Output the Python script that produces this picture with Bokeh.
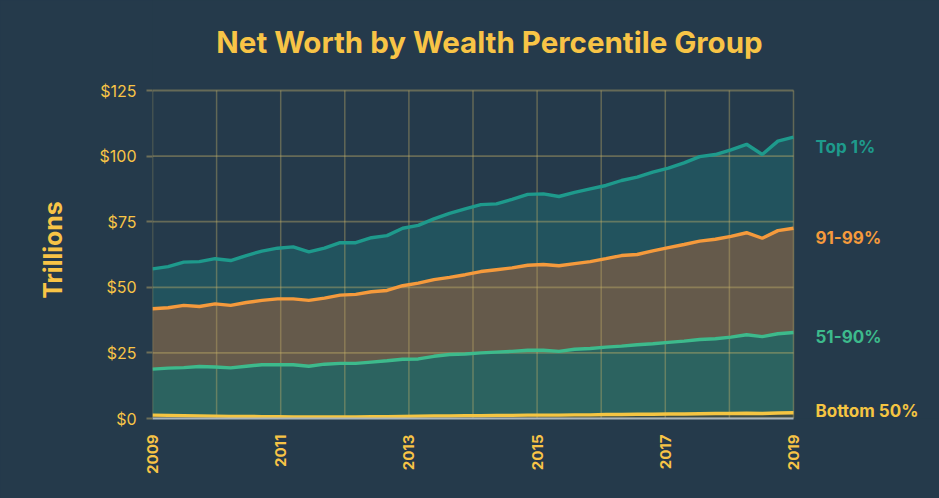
import numpy as np
from bokeh.plotting import figure
from bokeh.models import FixedTicker, PrintfTickFormatter, ColumnDataSource, Range1d
from bokeh.core.properties import value
from bokeh.embed import file_html
from bokeh.resources import INLINE

# ---------------- data (trillions of dollars, quarterly 2009Q1 .. 2019Q2) ----------------
quarters = [f"{y}Q{q}" for y in range(2009, 2020) for q in range(1, 5)][:42]

bottom50 = [1.3, 1.2, 1.1, 1.0, 0.9, 0.8, 0.8, 0.7, 0.7, 0.6, 0.6, 0.6, 0.6, 0.6,
            0.7, 0.7, 0.8, 0.9, 1.0, 1.0, 1.1, 1.1, 1.2, 1.2, 1.3, 1.3, 1.3, 1.4,
            1.4, 1.5, 1.5, 1.6, 1.6, 1.7, 1.7, 1.8, 1.9, 1.9, 2.0, 1.9, 2.1, 2.2]
p51_90 = [17.5, 18.0, 18.3, 18.8, 18.7, 18.5, 19.1, 19.8, 19.8, 19.9, 19.3, 20.1,
          20.4, 20.4, 20.8, 21.3, 21.8, 21.8, 22.7, 23.4, 23.5, 23.9, 24.1, 24.4,
          24.7, 24.7, 24.3, 25.0, 25.3, 25.7, 26.1, 26.5, 26.9, 27.3, 27.8, 28.3,
          28.5, 29.1, 29.9, 29.3, 30.2, 30.6]
p91_99 = [23.0, 23.0, 23.7, 22.9, 24.1, 23.8, 24.3, 24.5, 25.1, 25.1, 25.1, 25.2,
          26.0, 26.3, 26.8, 26.8, 28.0, 28.9, 29.2, 29.4, 30.2, 31.0, 31.4, 31.8,
          32.4, 32.7, 32.6, 32.6, 33.1, 33.7, 34.5, 34.4, 35.4, 36.1, 36.8, 37.5,
          37.9, 38.4, 38.9, 37.5, 39.3, 39.7]
top1 = [15.2, 15.7, 16.5, 17.1, 17.2, 17.1, 17.9, 18.8, 19.3, 19.8, 18.5, 19.0,
        20.0, 19.7, 20.6, 20.9, 21.9, 22.0, 23.2, 24.4, 25.1, 25.5, 25.1, 26.1,
        27.0, 26.9, 26.4, 27.2, 27.7, 27.9, 28.6, 29.5, 30.0, 30.3, 31.1, 32.2,
        32.3, 33.0, 33.7, 31.9, 34.1, 34.7]

title_text = "Net Worth by Wealth Percentile Group"
y_axis_title = "Trillions"
group_names = ["Bottom 50%", "51-90%", "91-99%", "Top 1%"]
year_ticks = [2009, 2011, 2013, 2015, 2017, 2019]
grid_years = list(range(2009, 2020))
y_ticks = [0, 25, 50, 75, 100, 125]

# ---------------- styling / layout (pixels) ----------------
BG = "#253a4b"
YELLOW = "#f8c446"
line_colors = ["#f5c542", "#3dba8c", "#f59a3c", "#1e9a8c"]
fill_colors = ["#3c4a45", "#2c6360", "#655a4b", "#22535e"]
GRID = "#c8b46a"
FONT = "Inter"

W, H = 939, 498
PLOT_TOP, PLOT_BOTTOM, PLOT_LEFT, PLOT_RIGHT = 90, 418, 152, 793
TITLE_CENTER_X, TITLE_BASELINE_Y = 489, 41
# the axis title is centred on the whole (taller) frame; trailing fixed-width
# spaces push the visible word down to the middle of the data area
YLABEL_PAD = "\u2003" * 3 + "\u00a0"

px_per_year = (PLOT_RIGHT - PLOT_LEFT) / (year_ticks[-1] - year_ticks[0])
px_per_unit = (PLOT_BOTTOM - PLOT_TOP) / (y_ticks[-1] - y_ticks[0])
x_end = year_ticks[-1] + (W - PLOT_RIGHT) / px_per_year
y_end = y_ticks[-1] + PLOT_TOP / px_per_unit
title_x = year_ticks[0] + (TITLE_CENTER_X - PLOT_LEFT) / px_per_year
title_y = y_ticks[-1] + (PLOT_TOP - TITLE_BASELINE_Y) / px_per_unit

x = np.linspace(year_ticks[0], year_ticks[-1], len(quarters))
series = [bottom50, p51_90, p91_99, top1]
cum = np.cumsum(np.array(series), axis=0)
lower = np.vstack([np.zeros(len(x)), cum[:-1]])

p = figure(width=W, height=H, output_backend="svg", toolbar_location=None, title=None,
           x_range=Range1d(year_ticks[0], x_end), y_range=Range1d(y_ticks[0], y_end),
           min_border_left=PLOT_LEFT, min_border_right=0, min_border_top=0,
           min_border_bottom=H - PLOT_BOTTOM, background_fill_color=BG,
           border_fill_color=BG, outline_line_color=None)
p.styles = {"background-color": BG}

src = ColumnDataSource(dict(x=x, **{f"lo{i}": lower[i] for i in range(4)},
                            **{f"hi{i}": cum[i] for i in range(4)}))

for i in range(4):
    r = p.varea(x="x", y1=f"lo{i}", y2=f"hi{i}", source=src, fill_color=fill_colors[i])
    r.level = "image"
for i in range(4):
    p.line(x="x", y=f"hi{i}", source=src, line_color=line_colors[i], line_width=3.4)

# grid drawn only across the data area
p.grid.visible = False
vg = p.segment(x0=grid_years, x1=grid_years, y0=y_ticks[0], y1=y_ticks[-1],
               line_color=GRID, line_alpha=0.38, line_width=1.5)
vg.level = "underlay"
hg = p.segment(x0=year_ticks[0], x1=year_ticks[-1], y0=y_ticks, y1=y_ticks,
               line_color=GRID, line_alpha=0.4, line_width=1.8)
hg.level = "underlay"

# y axis
p.yaxis.ticker = FixedTicker(ticks=y_ticks)
p.yaxis.formatter = PrintfTickFormatter(format="$%d")
p.yaxis.axis_line_color = None
p.yaxis.major_tick_line_color = "#6f6f58"
p.yaxis.major_tick_line_width = 1.8
p.yaxis.major_tick_out = 6
p.yaxis.major_tick_in = 0
p.yaxis.minor_tick_line_color = None
p.yaxis.major_label_text_color = YELLOW
p.yaxis.major_label_text_font = FONT
p.yaxis.major_label_text_font_size = "16px"
p.yaxis.major_label_standoff = 10
p.yaxis.axis_label = y_axis_title + YLABEL_PAD
p.yaxis.axis_label_text_color = YELLOW
p.yaxis.axis_label_text_font = FONT
p.yaxis.axis_label_text_font_style = "bold"
p.yaxis.axis_label_text_font_size = "25px"
p.yaxis.axis_label_standoff = 29

# x axis
p.xaxis.ticker = FixedTicker(ticks=year_ticks)
p.xaxis.bounds = (year_ticks[0], year_ticks[-1])
p.xaxis.axis_line_color = "#a9b3ba"
p.xaxis.axis_line_width = 2
p.xaxis.major_tick_line_color = None
p.xaxis.minor_tick_line_color = None
p.xaxis.major_label_orientation = np.pi / 2
p.xaxis.major_label_text_color = YELLOW
p.xaxis.major_label_text_font = FONT
p.xaxis.major_label_text_font_style = "bold"
p.xaxis.major_label_text_font_size = "15px"
p.xaxis.major_label_standoff = 10

# title (text glyph above the data area)
p.text(x=[title_x], y=[title_y], text=[title_text], text_color=YELLOW,
       text_font=value(FONT), text_font_style="bold", text_font_size="29.5px",
       text_align="center", text_baseline="alphabetic")

# right-side series labels at the end of each line
lab_src = ColumnDataSource(dict(x=[x[-1]] * 4, y=[c[-1] for c in cum], text=group_names,
                                color=line_colors, dy=[-12, -5, 0, 0]))
p.text(x="x", y="y", text="text", source=lab_src, text_color="color",
       x_offset=22, y_offset="dy", text_font=value(FONT), text_font_style="bold",
       text_font_size="17px", text_baseline="top", text_align="left")

html = file_html(p, INLINE, title=title_text)
html = html.replace("<body", f'<body style="background-color:{BG};"', 1)
open("out.html", "w").write(html)
